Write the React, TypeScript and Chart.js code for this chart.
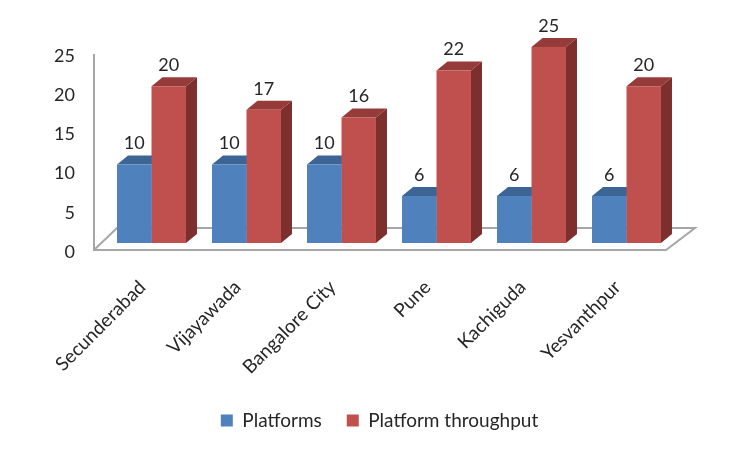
import { useEffect, useRef } from 'react';
import { Chart, registerables } from 'chart.js';

Chart.register(...registerables);

const categories = ['Secunderabad', 'Vijayawada', 'Bangalore City', 'Pune', 'Kachiguda', 'Yesvanthpur'];
const platforms = [10, 10, 10, 6, 6, 6];
const throughput = [20, 17, 16, 22, 25, 20];
const yMax = 25;
const yStep = 5;

const FONT = 'Lato';
const TEXT = '#262626';
const DEPTH_X = 11;
const DEPTH_Y = 9;
// front, top, side shades per series
const shades = [
  { front: '#4F81BD', top: '#3C6595', side: '#2F5078' },
  { front: '#C0504D', top: '#953C3A', side: '#7D2F2D' },
];

// floor + wall of the fake 3d box, and the extruded part of every bar
const box3d = {
  id: 'box3d',
  afterLayout(chart: any) {
    // legend sits a bit off the plot centre
    const lg = chart.legend;
    lg.left = 3;
    lg.right = 756;
    lg.top = 386;
  },
  beforeDatasetsDraw(chart: any) {
    const { ctx, chartArea } = chart;
    const base = chart.scales.y.getPixelForValue(0);
    const l = chartArea.left;
    const r = chartArea.right;
    ctx.save();
    ctx.strokeStyle = '#A6A6A6';
    ctx.lineWidth = 2;
    ctx.beginPath();
    ctx.moveTo(l - 10, chartArea.top + 7);
    ctx.lineTo(l - 10, base + 7);
    ctx.lineTo(r - 8, base + 7);
    ctx.lineTo(r + 21, base - 15);
    ctx.lineTo(l + 13, base - 15);
    ctx.lineTo(l - 10, base + 7);
    ctx.stroke();

    chart.data.datasets.forEach((_: any, di: number) => {
      chart.getDatasetMeta(di).data.forEach((bar: any) => {
        const p = bar.getProps(['x', 'y', 'base', 'width'], true);
        const x0 = p.x - p.width / 2;
        const x1 = p.x + p.width / 2;
        ctx.fillStyle = shades[di].top;
        ctx.beginPath();
        ctx.moveTo(x0, p.y);
        ctx.lineTo(x0 + DEPTH_X, p.y - DEPTH_Y);
        ctx.lineTo(x1 + DEPTH_X, p.y - DEPTH_Y);
        ctx.lineTo(x1, p.y);
        ctx.closePath();
        ctx.fill();
        ctx.fillStyle = shades[di].side;
        ctx.beginPath();
        ctx.moveTo(x1, p.y);
        ctx.lineTo(x1 + DEPTH_X, p.y - DEPTH_Y);
        ctx.lineTo(x1 + DEPTH_X, p.base - DEPTH_Y);
        ctx.lineTo(x1, p.base);
        ctx.closePath();
        ctx.fill();
      });
    });
    ctx.restore();
  },
  afterDatasetsDraw(chart: any) {
    const { ctx } = chart;
    ctx.save();
    ctx.font = `18px ${FONT}`;
    ctx.fillStyle = TEXT;
    ctx.textAlign = 'center';
    ctx.textBaseline = 'middle';
    chart.data.datasets.forEach((ds: any, di: number) => {
      chart.getDatasetMeta(di).data.forEach((bar: any, i: number) => {
        const p = bar.getProps(['x', 'y'], true);
        ctx.fillText(String(ds.data[i]), p.x, p.y - 21);
      });
    });
    ctx.restore();
  },
};

export default function App() {
  const canvasRef = useRef<HTMLCanvasElement>(null);

  useEffect(() => {
    document.body.style.margin = '0';
    if (!canvasRef.current) return;
    const chart = new Chart(canvasRef.current, {
      type: 'bar',
      data: {
        labels: categories,
        datasets: [
          { label: 'Platforms', data: platforms, backgroundColor: shades[0].front },
          { label: 'Platform throughput', data: throughput, backgroundColor: shades[1].front },
        ],
      },
      plugins: [box3d],
      options: {
        responsive: false,
        animation: false,
        categoryPercentage: 0.726,
        barPercentage: 1,
        layout: { padding: { top: 47, right: 78, left: 0, bottom: 0 } },
        plugins: {
          tooltip: { enabled: false },
          legend: {
            position: 'bottom',
            labels: {
              boxWidth: 12,
              boxHeight: 12,
              padding: 25,
              color: TEXT,
              font: { family: FONT, size: 19 },
            },
          },
        },
        scales: {
          x: {
            grid: { display: false },
            border: { display: false },
            afterFit: (scale: any) => {
              scale.height = 156;
            },
            ticks: {
              autoSkip: false,
              maxRotation: 45,
              minRotation: 45,
              padding: 25,
              labelOffset: -9,
              color: TEXT,
              font: { family: FONT, size: 19 },
            },
          },
          y: {
            min: 0,
            max: yMax,
            grid: { display: false },
            border: { display: false },
            afterFit: (scale: any) => {
              scale.width = 104;
            },
            ticks: {
              stepSize: yStep,
              padding: 21,
              labelOffset: 9,
              color: TEXT,
              font: { family: FONT, size: 18 },
            },
          },
        },
      },
    } as any);
    return () => chart.destroy();
  }, []);

  return (
    <div style={{ width: 752, height: 453 }}>
      <canvas ref={canvasRef} width={752} height={453} style={{ display: 'block', filter: 'blur(0.3px)' }} />
    </div>
  );
}
